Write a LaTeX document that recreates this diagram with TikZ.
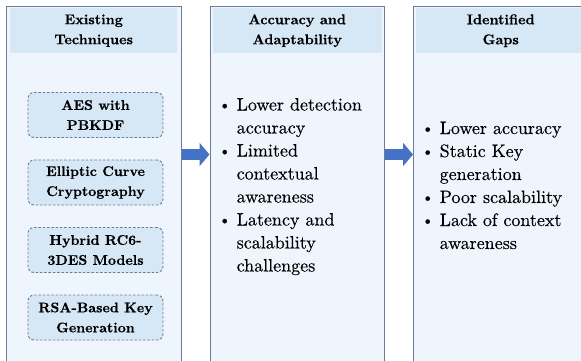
\documentclass[tikz,border=0pt]{standalone}
\usepackage{fontspec}
\setmainfont{lmroman10}[Extension=.otf, UprightFont=*-regular, BoldFont=*-bold,
  UprightFeatures={FakeBold=0.3}, BoldFeatures={FakeBold=0.4}]
\usetikzlibrary{arrows.meta}

\definecolor{panelfill}{HTML}{EEF5FC}
\definecolor{headfill}{HTML}{D6E7F6}
\definecolor{panelline}{HTML}{6C7C96}
\definecolor{flowblue}{HTML}{4472C4}

\tikzset{
  panel/.style={draw=panelline, line width=1.3pt, fill=panelfill,
    minimum height=380pt, anchor=north west, inner sep=0pt},
  headband/.style={fill=headfill, minimum height=45pt, anchor=north west, inner sep=0pt},
  headtext/.style={align=center, inner sep=0pt,
    font=\fontsize{14.2}{20}\selectfont\bfseries},
  techbox/.style={draw=panelline, line width=0.9pt, dash pattern=on 2.5pt off 1.8pt,
    fill=headfill, rounded corners=6pt, minimum width=135pt, minimum height=45pt,
    align=center, inner sep=0pt, font=\fontsize{14}{20}\selectfont\bfseries},
  bullets/.style={anchor=base west, inner sep=0pt,
    font=\fontsize{18}{23}\selectfont},
  flow/.style={draw=flowblue, line width=10.5pt,
    -{Triangle[length=10pt,width=23pt]}}
}
% round bullet with a hanging text column
\newcommand{\bitem}{\makebox[18pt][l]{\raisebox{0.8pt}{\fontsize{15.5}{15.5}\selectfont\textbullet}}}

\begin{document}
\begin{tikzpicture}[x=1pt,y=-1pt]
  \useasboundingbox (0,0) rectangle (581,361);
  \clip (0,0) rectangle (581,361);

  % three columns
  \node[panel, minimum width=175pt] (p1) at (6,6) {};
  \node[panel, minimum width=174.5pt] (p2) at (209.5,6) {};
  \node[panel, minimum width=175pt] (p3) at (413,6) {};

  % column headings
  \node[headband, minimum width=167pt] (h1) at (10,8) {};
  \node[headband, minimum width=169pt] (h2) at (212.5,8) {};
  \node[headband, minimum width=169pt] (h3) at (416,8) {};
  \node[headtext] (t1) at (h1.center) {Existing\\Techniques};
  \node[headtext] (t2) at (h2.center) {Accuracy and\\Adaptability};
  \node[headtext] (t3) at (h3.center) {Identified\\Gaps};

  % techniques in the first column
  \node[techbox] (aes) at (95.5,115) {AES with\\PBKDF};
  \node[techbox] (ecc) at (95.5,182.5) {Elliptic Curve\\Cryptography};
  \node[techbox] (rc6) at (95.5,250) {Hybrid RC6-\\3DES Models};
  \node[techbox] (rsa) at (95.5,317.5) {RSA-Based Key\\Generation};

  % bullet lists
  \node[bullets] (l2) at (218.5,110.5) {%
    \begin{tabular}[t]{@{}l@{}l@{}}
      \bitem & Lower detection\\
             & accuracy\\
      \bitem & Limited\\
             & contextual\\
             & awareness\\
      \bitem & Latency and\\
             & scalability\\
             & challenges
    \end{tabular}};
  \node[bullets] (l3) at (421.5,134) {%
    \begin{tabular}[t]{@{}l@{}l@{}}
      \bitem & Lower accuracy\\
      \bitem & Static Key\\
             & generation\\
      \bitem & Poor scalability\\
      \bitem & Lack of context\\
             & awareness
    \end{tabular}};

  % flow arrows between columns
  \coordinate (fy) at (0,154.5);
  \draw[flow] (p1.east |- fy) -- (p2.west |- fy);
  \draw[flow] (p2.east |- fy) -- (p3.west |- fy);
\end{tikzpicture}
\end{document}
